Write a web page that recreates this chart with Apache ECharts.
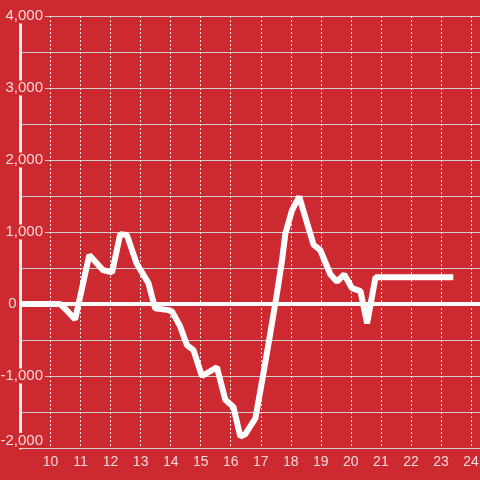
<!DOCTYPE html>
<html>
<head>
<meta charset="utf-8">
<script src="https://cdn.jsdelivr.net/npm/echarts@6/dist/echarts.min.js"></script>
<style>
html,body{margin:0;padding:0;background:#cc2a30;}
#chart{width:480px;height:480px;}
</style>
</head>
<body>
<div id="chart"></div>
<script>
var hours = [9, 10.32, 10.52, 10.82, 11.29, 11.75, 12.05, 12.32, 12.54, 12.87, 13.26, 13.48, 13.93, 14.05, 14.32, 14.54, 14.76, 15.04, 15.54, 15.82, 16.09, 16.32, 16.48, 16.82, 17.09, 17.32, 17.54, 17.71, 17.82, 18.04, 18.28, 18.48, 18.76, 18.98, 19.32, 19.54, 19.78, 20.04, 20.32, 20.54, 20.82, 23.41];
var values = [0, 0, -80, -215, 680, 470, 440, 970, 960, 560, 290, -60, -85, -105, -315, -570, -640, -1000, -880, -1330, -1430, -1840, -1810, -1590, -960, -400, 150, 610, 980, 1300, 1490, 1210, 820, 750, 410, 310, 410, 220, 180, -270, 370, 370];
var xTickLabels = [10, 11, 12, 13, 14, 15, 16, 17, 18, 19, 20, 21, 22, 23, 24];
var yTickLabels = [-2000, -1000, 1000, 2000, 3000, 4000];

var BG = '#cc2a30';
var LABEL = 'rgba(255,255,255,0.82)';
var FONT = 'Liberation Sans';

var seriesData = hours.map(function (h, i) { return [h, values[i]]; });

function fmt(v) {
  return v.toLocaleString('en-US');
}

var chart = echarts.init(document.getElementById('chart'), null, {renderer: 'canvas'});
chart.setOption({
  backgroundColor: BG,
  animation: false,
  grid: {left: 20.5, right: 0, top: 16, bottom: 32, containLabel: false, outerBoundsMode: 'none'},
  xAxis: {
    type: 'value',
    min: 9,
    max: 24.3,
    interval: 1,
    axisLine: {show: false},
    axisTick: {show: false},
    axisLabel: {
      color: LABEL,
      fontSize: 14,
      fontFamily: FONT,
      margin: 7,
      showMinLabel: false,
      showMaxLabel: false,
      hideOverlap: false,
      formatter: function (v) {
        return xTickLabels.indexOf(v) >= 0 ? String(v) : '';
      }
    },
    splitLine: {
      show: true,
      showMinLine: false,
      showMaxLine: false,
      lineStyle: {color: '#e8e8e8', width: 1, type: [2, 2]}
    }
  },
  yAxis: [
    {
      type: 'value',
      min: -2000,
      max: 4000,
      interval: 500,
      axisLine: {show: false},
      axisTick: {show: false},
      axisLabel: {show: false},
      splitLine: {show: true, lineStyle: {color: '#cfcfcf', width: 1}}
    },
    {
      type: 'value',
      position: 'left',
      min: -2000,
      max: 4000,
      interval: 1000,
      z: 3,
      axisLine: {show: true, lineStyle: {color: '#eeeeee', width: 3}},
      axisTick: {show: false},
      splitLine: {show: false},
      axisLabel: {
        margin: -24.5,
        color: LABEL,
        fontSize: 15,
        fontFamily: FONT,
        lineHeight: 15,
        backgroundColor: BG,
        padding: [0, 2, 0, 3],
        hideOverlap: false,
        verticalAlignMinLabel: 'bottom',
        formatter: function (v) {
          return yTickLabels.indexOf(v) >= 0 ? fmt(v) : '';
        }
      }
    }
  ],
  series: [
    {
      type: 'line',
      yAxisIndex: 0,
      data: seriesData,
      showSymbol: false,
      symbol: 'none',
      lineStyle: {color: '#ffffff', width: 6},
      markLine: {
        silent: true,
        symbol: ['none', 'none'],
        lineStyle: {color: '#ffffff', width: 4, type: 'solid'},
        label: {
          show: true,
          position: 'start',
          distance: 4,
          formatter: '0',
          color: LABEL,
          fontSize: 15,
          fontFamily: FONT
        },
        data: [{yAxis: 0}]
      }
    }
  ]
});
</script>
</body>
</html>
